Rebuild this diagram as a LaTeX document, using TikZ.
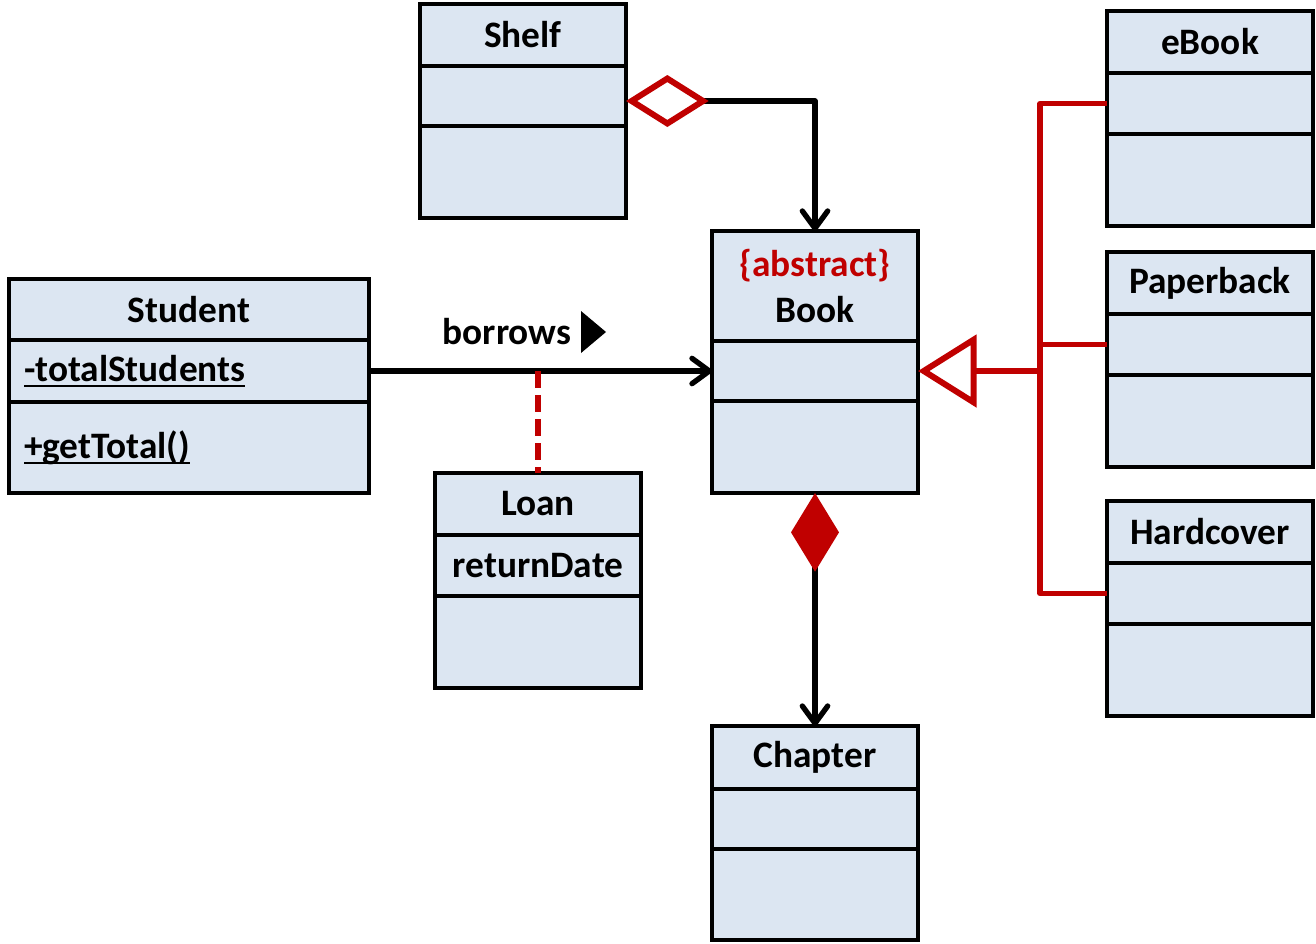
\documentclass[tikz,border=0pt]{standalone}
\usepackage{fontspec}
\setmainfont{Carlito}
\usetikzlibrary{arrows.meta}
\definecolor{boxfill}{HTML}{DCE6F2}
\definecolor{umlred}{HTML}{C00000}
\newcommand\staticattr[1]{\setbox0\hbox{#1}\rlap{\rule[-4.5pt]{\wd0}{1.6pt}}\box0}

\tikzset{
  cls/.style={draw, line width=3pt, fill=boxfill, anchor=north west, inner sep=0pt, outer sep=0pt,
    minimum width=154.5pt, align=center, font=\fontsize{28}{34}\selectfont\bfseries},
  tall/.style={minimum height=#1*0.75pt},
  wide/.style={minimum width=#1*0.75pt},
  lefttext/.style={text width=247.5pt, inner xsep=11.25pt, align=left},
  lbl/.style={inner sep=0pt, font=\fontsize{28}{34}\selectfont\bfseries},
  link/.style={line width=4pt, line join=round},
  gen/.style={line width=4pt, umlred, line join=round},
  barb/.style={-{Straight Barb[length=13pt, width=19pt, line width=4pt, round]}},
}

\begin{document}
\begin{tikzpicture}[x=0.75pt, y=-0.75pt]
        \useasboundingbox (0,0) rectangle (1316,943);
        % classes
        \node[cls, tall=62] (shelf) at (420,4) {Shelf};
        \node[cls, tall=60] (shelfa) at (shelf.south west) {};
        \node[cls, tall=92] (shelfo) at (shelfa.south west) {};

        \node[cls, wide=360, tall=61] (student) at (9,279) {Student};
        \node[cls, wide=360, tall=62, lefttext] (studenta) at (student.south west) {\staticattr{-totalStudents}};
        \node[cls, wide=360, tall=91, lefttext] (studento) at (studenta.south west) {\staticattr{+getTotal()}};

        \node[cls, tall=110] (book) at (712,231) {\textcolor{umlred}{\{abstract\}}\\Book};
        \node[cls, tall=60] (booka) at (book.south west) {};
        \node[cls, tall=92] (booko) at (booka.south west) {};

        \node[cls, tall=62] (loan) at (435,473) {Loan};
        \node[cls, tall=61] (loana) at (loan.south west) {returnDate};
        \node[cls, tall=92] (loano) at (loana.south west) {};

        \node[cls, tall=63] (chapter) at (712,726) {Chapter};
        \node[cls, tall=60] (chaptera) at (chapter.south west) {};
        \node[cls, tall=91] (chaptero) at (chaptera.south west) {};

        \foreach \name/\title/\y in {ebook/eBook/11, paperb/Paperback/252, hardc/Hardcover/501} {
          \node[cls, tall=62] (\name) at (1107,\y) {\title};
          \node[cls, tall=61] (\name a) at (\name.south west) {};
          \node[cls, tall=92] (\name o) at (\name a.south west) {};
        }

        % aggregation
        \draw[link, {Diamond[open, length=62pt, width=39pt, line width=4.5pt, color=umlred]}-{Straight Barb[length=13pt, width=19pt, line width=4pt, round]}]
          ([yshift=-3.75pt]shelfa.east) -| (book.north);
        % association
        \draw[link, barb] (studenta.east) -- (booka.west);
        \node[lbl] (borrows) at (507,332) {borrows};
        \fill (581,311) -- (606,332) -- (581,353) -- cycle;
        \draw[line width=4pt, umlred, dash pattern=on 13pt off 5pt] (loan.north |- studenta.east) -- (loan.north);
        % composition
        \draw[link, {Diamond[length=59pt, width=36pt, color=umlred, fill=umlred]}-{Straight Barb[length=13pt, width=19pt, line width=4pt, round]}]
          (booko.south) -- (chapter.north);
        % generalization
        \coordinate (hub) at (booka.east -| 1040,0);
        \draw[gen] (ebooka.west) -- (ebooka.west -| hub) -- (hardca.west -| hub) -- (hardca.west);
        \draw[gen] (paperba.west) -- (paperba.west -| hub);
        \draw[gen, -{Triangle[open, length=44pt, width=54pt, line width=4.5pt]}] (hub) -- (booka.east);
\end{tikzpicture}
\end{document}
